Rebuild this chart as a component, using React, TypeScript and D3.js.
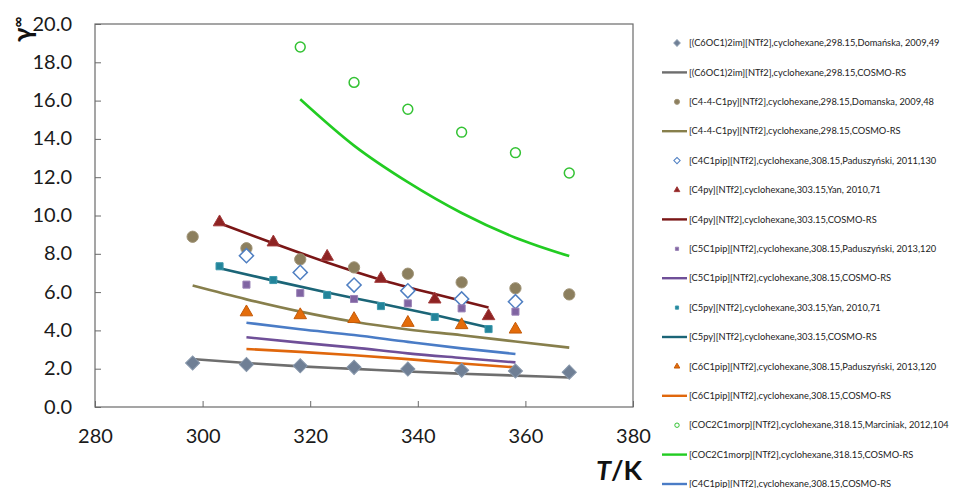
import { useEffect, useRef } from "react";
import * as d3 from "d3";

// temperatures (K)
const T8 = [298.15, 308.15, 318.15, 328.15, 338.15, 348.15, 358.15, 368.15];
const T303 = [303.15, 313.15, 323.15, 333.15, 343.15, 353.15];
const T308 = [308.15, 318.15, 328.15, 338.15, 348.15, 358.15];
const T318 = [318.15, 328.15, 338.15, 348.15, 358.15, 368.15];

// activity coefficients at infinite dilution
const c6oc1Exp = [2.3, 2.22, 2.15, 2.07, 1.98, 1.92, 1.88, 1.82];
const c6oc1Cosmo = [2.5, 2.3, 2.12, 1.99, 1.85, 1.74, 1.64, 1.54];
const c44Exp = [8.89, 8.29, 7.71, 7.29, 6.96, 6.51, 6.2, 5.88];
const c44Cosmo = [6.34, 5.62, 4.98, 4.45, 4.05, 3.75, 3.42, 3.1];
const c4c1pipExp = [7.9, 7.03, 6.37, 6.07, 5.64, 5.5];
const c4pyExp = [9.65, 8.6, 7.85, 6.7, 5.62, 4.75];
const c4pyCosmo = [9.6, 8.55, 7.55, 6.65, 5.9, 5.2];
const c5c1pipExp = [6.39, 5.95, 5.64, 5.41, 5.15, 4.98];
const c5c1pipCosmo = [3.64, 3.36, 3.1, 2.8, 2.56, 2.33];
const c5pyExp = [7.35, 6.63, 5.85, 5.27, 4.7, 4.07];
const c5pyCosmo = [7.25, 6.6, 5.98, 5.4, 4.8, 4.15];
const c6c1pipExp = [4.95, 4.8, 4.6, 4.4, 4.28, 4.05];
const c6c1pipCosmo = [3.03, 2.88, 2.7, 2.5, 2.27, 2.07];
const cocExp = [18.8, 16.95, 15.55, 14.35, 13.28, 12.22];
const cocCosmo = [16.07, 13.65, 11.74, 10.13, 8.84, 7.88];
const c4c1pipCosmo = [4.4, 4.06, 3.76, 3.4, 3.06, 2.77];

const xTicks = [280, 300, 320, 340, 360, 380];
const yTicks = [0, 2, 4, 6, 8, 10, 12, 14, 16, 18, 20];

type S = {
  name: string;
  t: number[];
  v: number[];
  kind: "line" | "marker";
  color: string;
  shape?: string;
  fill?: string;
  stroke?: string;
};

const series: S[] = [
  { name: "[(C6OC1)2im][NTf2],cyclohexane,298.15,Domańska, 2009,49", t: T8, v: c6oc1Exp, kind: "marker", shape: "diamond", color: "#6f7f95", fill: "#6f7f95", stroke: "#8797ab" },
  { name: "[(C6OC1)2im][NTf2],cyclohexane,298.15,COSMO-RS", t: T8, v: c6oc1Cosmo, kind: "line", color: "#6e6e6e" },
  { name: "[C4-4-C1py][NTf2],cyclohexane,298.15,Domanska, 2009,48", t: T8, v: c44Exp, kind: "marker", shape: "circle", color: "#8c7f5e", fill: "#8c7f5e", stroke: "#a09477" },
  { name: "[C4-4-C1py][NTf2],cyclohexane,298.15,COSMO-RS", t: T8, v: c44Cosmo, kind: "line", color: "#877f4c" },
  { name: "[C4C1pip][NTf2],cyclohexane,308.15,Paduszyński, 2011,130", t: T308, v: c4c1pipExp, kind: "marker", shape: "diamond", color: "#4f7fc2", fill: "#ffffff", stroke: "#4f7fc2" },
  { name: "[C4py][NTf2],cyclohexane,303.15,Yan, 2010,71", t: T303, v: c4pyExp, kind: "marker", shape: "triangle", color: "#8e2323", fill: "#8e2323", stroke: "#a23a3a" },
  { name: "[C4py][NTf2],cyclohexane,303.15,COSMO-RS", t: T303, v: c4pyCosmo, kind: "line", color: "#7a1616" },
  { name: "[C5C1pip][NTf2],cyclohexane,308.15,Paduszyński, 2013,120", t: T308, v: c5c1pipExp, kind: "marker", shape: "square", color: "#8064a2", fill: "#8064a2", stroke: "#9a82b6" },
  { name: "[C5C1pip][NTf2],cyclohexane,308.15,COSMO-RS", t: T308, v: c5c1pipCosmo, kind: "line", color: "#6f4f98" },
  { name: "[C5py][NTf2],cyclohexane,303.15,Yan, 2010,71", t: T303, v: c5pyExp, kind: "marker", shape: "square", color: "#23849a", fill: "#23849a", stroke: "#3f9aad" },
  { name: "[C5py][NTf2],cyclohexane,303.15,COSMO-RS", t: T303, v: c5pyCosmo, kind: "line", color: "#1b6577" },
  { name: "[C6C1pip][NTf2],cyclohexane,308.15,Paduszyński, 2013,120", t: T308, v: c6c1pipExp, kind: "marker", shape: "triangle", color: "#e46c0a", fill: "#e46c0a", stroke: "#c45a08" },
  { name: "[C6C1pip][NTf2],cyclohexane,308.15,COSMO-RS", t: T308, v: c6c1pipCosmo, kind: "line", color: "#e0670c" },
  { name: "[COC2C1morp][NTf2],cyclohexane,318.15,Marciniak, 2012,104", t: T318, v: cocExp, kind: "marker", shape: "ocircle", color: "#33c233", fill: "none", stroke: "#33c233" },
  { name: "[COC2C1morp][NTf2],cyclohexane,318.15,COSMO-RS", t: T318, v: cocCosmo, kind: "line", color: "#22cc22" },
  { name: "[C4C1pip][NTf2],cyclohexane,308.15,COSMO-RS", t: T308, v: c4c1pipCosmo, kind: "line", color: "#4a7cc6" },
];

const FONT = "Lato, 'Open Sans', sans-serif";

function symbolPath(shape: string, big: boolean) {
  const k = big ? 1 : 0.45;
  if (shape === "diamond") return d3.symbol(d3.symbolSquare, 100 * k * k)();
  if (shape === "circle") return d3.symbol(d3.symbolCircle, 100 * k * k)();
  if (shape === "ocircle") return d3.symbol(d3.symbolCircle, 76 * k * k)();
  if (shape === "triangle") return d3.symbol(d3.symbolTriangle, 68 * k * k)();
  return d3.symbol(d3.symbolSquare, 50 * k * k)();
}

const App = () => {
  const svgRef = useRef<SVGSVGElement>(null);

  useEffect(() => {
    const svg = d3.select(svgRef.current);
    svg.selectAll("*").remove();

    const left = 95, right = 633, top = 24, bottom = 407;
    const x = d3.scaleLinear().domain([280, 380]).range([left, right]);
    const y = d3.scaleLinear().domain([0, 20]).range([bottom, top]);

    // plot frame
    svg.append("rect")
      .attr("x", left).attr("y", top)
      .attr("width", right - left).attr("height", bottom - top)
      .attr("fill", "none").attr("stroke", "#6a6a6a").attr("stroke-width", 1.2);

    const xAxis = svg.append("g")
      .attr("transform", `translate(0,${bottom})`)
      .call(d3.axisBottom(x).tickValues(xTicks).tickSize(-6).tickPadding(22).tickFormat(d3.format("d")));
    const yAxis = svg.append("g")
      .attr("transform", `translate(${left},0)`)
      .call(d3.axisLeft(y).tickValues(yTicks).tickSize(-6).tickPadding(23).tickFormat(d3.format(".1f")));
    [xAxis, yAxis].forEach(g => {
      g.select(".domain").remove();
      g.selectAll(".tick line").attr("stroke", "#6a6a6a");
      g.selectAll(".tick text")
        .attr("font-family", FONT).attr("font-size", 20).attr("fill", "#1a1a1a");
    });
    yAxis.selectAll(".tick text").attr("dy", "0.3em");

    // lines
    const line = d3.line<[number, number]>()
      .x(d => x(d[0])).y(d => y(d[1]))
      .curve(d3.curveMonotoneX);
    series.filter(s => s.kind === "line").forEach(s => {
      svg.append("path")
        .datum(s.t.map((t, i) => [t, s.v[i]] as [number, number]))
        .attr("fill", "none").attr("stroke", s.color).attr("stroke-width", 2.6)
        .attr("d", line);
    });

    // markers
    series.filter(s => s.kind === "marker").forEach(s => {
      const rot = s.shape === "diamond" ? " rotate(45)" : "";
      svg.append("g").selectAll("path")
        .data(s.t.map((t, i) => [t, s.v[i]]))
        .join("path")
        .attr("transform", d => `translate(${x(d[0])},${y(d[1])})${rot}`)
        .attr("d", symbolPath(s.shape!, true))
        .attr("fill", s.fill!)
        .attr("stroke", s.stroke!)
        .attr("stroke-width", s.fill === "none" || s.fill === "#ffffff" ? 1.5 : 1);
    });

    // legend
    const leg = svg.append("g");
    series.forEach((s, i) => {
      const ly = 43 + i * 29.4;
      if (s.kind === "line") {
        leg.append("line")
          .attr("x1", 662).attr("x2", 687).attr("y1", ly).attr("y2", ly)
          .attr("stroke", s.color).attr("stroke-width", 2.4);
      } else {
        const rot = s.shape === "diamond" ? " rotate(45)" : "";
        leg.append("path")
          .attr("transform", `translate(677,${ly})${rot}`)
          .attr("d", symbolPath(s.shape!, false))
          .attr("fill", s.fill!).attr("stroke", s.stroke!).attr("stroke-width", 1);
      }
      leg.append("text")
        .attr("x", 689).attr("y", ly).attr("dy", "0.34em")
        .attr("font-family", FONT).attr("font-size", 9.3).attr("fill", "#222")
        .text(s.name);
    });

    // axis titles
    const yt = svg.append("text")
      .attr("transform", "translate(32,42) rotate(-90)")
      .attr("font-family", FONT).attr("font-weight", "bold").attr("fill", "#111");
    yt.append("tspan").attr("font-size", 26).text("γ");
    yt.append("tspan").attr("font-size", 15).attr("dy", -9).text("∞");

    svg.append("text")
      .attr("x", 619).attr("y", 480).attr("text-anchor", "middle")
      .attr("font-family", FONT).attr("font-size", 27).attr("font-weight", "bold").attr("fill", "#111")
      .call(t => {
        t.append("tspan").attr("font-style", "italic").text("T");
        t.append("tspan").text("/K");
      });
  }, []);

  return (
    <svg ref={svgRef} width={954} height={488}
      style={{ position: "absolute", left: 0, top: 0, background: "#fff" }} />
  );
};

export default App;
